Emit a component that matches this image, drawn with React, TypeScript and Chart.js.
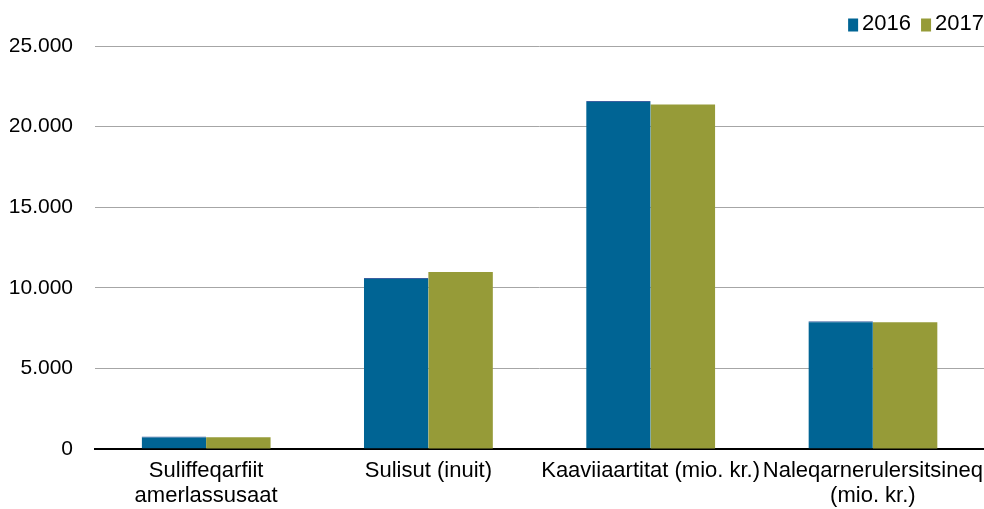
import React, { useEffect, useRef } from "react";
import { Chart, registerables } from "chart.js";

Chart.register(...registerables);

const categories: (string | string[])[] = [
  ["Suliffeqarfiit", "amerlassusaat"],
  "Sulisut (inuit)",
  "Kaaviiaartitat (mio. kr.)",
  ["Naleqarnerulersitsineq", "(mio. kr.)"],
];
const values2016 = [780, 10610, 21590, 7920];
const values2017 = [730, 10980, 21370, 7860];
const seriesNames = ["2016", "2017"];
const seriesColors = ["#006494", "#969b38"];
const yTicks = [0, 5000, 10000, 15000, 20000, 25000];

const FONT = "Liberation Sans, Arial, sans-serif";
const fmt = (v: number) => String(v).replace(/\B(?=(\d{3})+(?!\d))/g, ".");

const legendPlugin = {
  id: "customLegend",
  afterDraw(chart: any) {
    const ctx = chart.ctx;
    ctx.save();
    ctx.font = `22px ${FONT}`;
    ctx.textBaseline = "middle";
    ctx.fillStyle = "#000";
    const items = chart.data.datasets.map((d: any) => ({
      label: d.label,
      color: d.backgroundColor,
      w: ctx.measureText(d.label).width,
    }));
    const boxW = 10, boxH = 13, gap = 4, itemGap = 10;
    let total = 0;
    items.forEach((it: any, i: number) => {
      total += boxW + gap + it.w + (i < items.length - 1 ? itemGap : 0);
    });
    let x = 984 - total;
    const cy = 24;
    items.forEach((it: any) => {
      ctx.fillStyle = it.color;
      ctx.fillRect(x, cy - boxH / 2 + 1, boxW, boxH);
      x += boxW + gap;
      ctx.fillStyle = "#000";
      ctx.fillText(it.label, x, cy);
      x += it.w + itemGap;
    });
    ctx.restore();
  },
};

export default function App() {
  const ref = useRef<HTMLCanvasElement>(null);
  useEffect(() => {
    if (!ref.current) return;
    const chart = new Chart(ref.current, {
      type: "bar",
      data: {
        labels: categories,
        datasets: [
          {
            label: seriesNames[0],
            data: values2016,
            backgroundColor: seriesColors[0],
            borderColor: "#3a5fa0",
            borderWidth: { top: 1, left: 0, right: 0, bottom: 0 } as any,
            borderSkipped: false,
            categoryPercentage: 0.58,
            barPercentage: 1,
          },
          {
            label: seriesNames[1],
            data: values2017,
            backgroundColor: seriesColors[1],
            borderWidth: 0,
            categoryPercentage: 0.58,
            barPercentage: 1,
          },
        ],
      },
      plugins: [legendPlugin],
      options: {
        animation: false,
        responsive: false,
        maintainAspectRatio: false,
        layout: { padding: { left: 10, right: 0, top: 46, bottom: 2 } },
        plugins: {
          legend: { display: false },
          tooltip: { enabled: false },
        },
        scales: {
          x: {
            grid: { display: false, drawTicks: false },
            border: { display: true, color: "#000", width: 2 },
            afterFit: (scale: any) => {
              scale.height = 58;
              scale.paddingLeft = 0;
              scale.paddingRight = 0;
            },
            ticks: {
              color: "#000",
              padding: 9,
              maxRotation: 0,
              autoSkip: false,
              font: { family: FONT, size: 22, lineHeight: 1.15 },
            },
          },
          y: {
            min: 0,
            max: 25000,
            afterBuildTicks: (axis: any) => {
              axis.ticks = yTicks.map((v) => ({ value: v }));
            },
            afterFit: (scale: any) => {
              scale.width = 85;
            },
            grid: {
              color: (ctx: any) => (ctx.tick && ctx.tick.value === 0 ? "rgba(0,0,0,0)" : "#a6a6a6"),
              lineWidth: 1,
              drawTicks: false,
            },
            border: { display: false },
            ticks: {
              color: "#000",
              padding: 22,
              callback: (v: any) => fmt(Number(v)),
              font: { family: FONT, size: 21 },
            },
          },
        },
      },
    });
    return () => chart.destroy();
  }, []);
  return (
    <div style={{ position: "absolute", left: 0, top: 0, width: 984, height: 509, background: "#fff" }}>
      <canvas ref={ref} width={984} height={509} style={{ display: "block" }} />
    </div>
  );
}
